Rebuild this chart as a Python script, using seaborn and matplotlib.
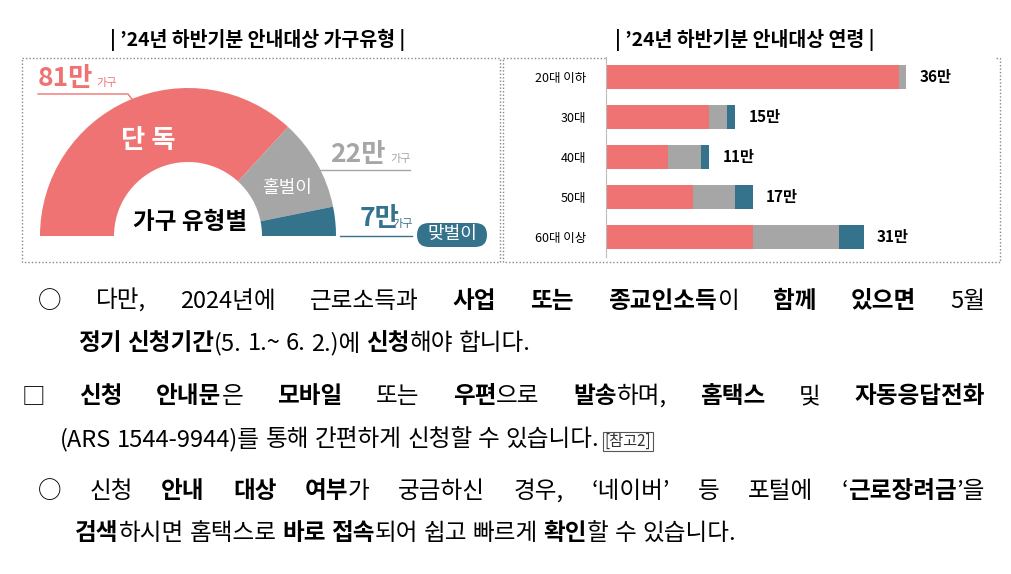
import matplotlib
matplotlib.use("Agg")
import matplotlib.pyplot as plt
import seaborn as sns
import pandas as pd
import numpy as np
from matplotlib.patches import Rectangle, FancyBboxPatch

plt.rcParams["font.family"] = ["Noto Sans CJK KR", "Noto Sans CJK JP", "Noto Sans CJK SC", "DejaVu Sans"]

# ---- data ----
hh_types = ["단 독", "홀벌이", "맞벌이"]
hh_values = [81, 22, 7]
hh_labels = ["81만", "22만", "7만"]

ages = ["20대 이하", "30대", "40대", "50대", "60대 이상"]
single = [35.1, 12.4, 7.4, 10.4, 17.6]
one_earner = [0.9, 2.1, 4.0, 5.1, 10.3]
dual = [0.0, 1.0, 1.0, 2.1, 3.0]
age_totals = ["36만", "15만", "11만", "17만", "31만"]

RED, GREY, TEAL = "#F07373", "#A6A6A6", "#35738C"

W, H = 1011, 574
fig = plt.figure(figsize=(W/100, H/100), dpi=100)
ov = fig.add_axes([0, 0, 1, 1])
ov.set_xlim(0, W); ov.set_ylim(H, 0); ov.axis("off")
ov.set_aspect("equal")

for x0, x1 in [(22, 500), (503, 1000)]:
    ov.add_patch(Rectangle((x0, 58), x1-x0, 204, fill=False, ec="#888888", lw=1, ls=(0, (1, 1.5))))

ov.text(258, 40, "| ’24년 하반기분 안내대상 가구유형 |", ha="center", va="center", fontsize=14, fontweight="bold")
ov.text(745, 40, "| ’24년 하반기분 안내대상 연령 |", ha="center", va="center", fontsize=14, fontweight="bold")

# donut (half)
vals = hh_values + [sum(hh_values)]
ov.pie(vals, colors=[RED, GREY, TEAL, "none"], startangle=180, counterclock=True,
       radius=148, center=(188, 236), wedgeprops=dict(width=74, lw=0), frame=True)
ov.set_xlim(0, W); ov.set_ylim(H, 0); ov.axis("off")

ov.text(148, 140, hh_types[0], color="white", fontsize=19, fontweight="bold", ha="center", va="center")
ov.text(287, 188, hh_types[1], color="white", fontsize=13, ha="center", va="center")
ov.text(190, 222, "가구 유형별", color="black", fontsize=17, fontweight="bold", ha="center", va="center")

ov.text(38, 78, hh_labels[0], color=RED, fontsize=19, fontweight="bold", ha="left", va="center")
ov.text(96, 83, "가구", color=RED, fontsize=8, ha="left", va="center")
ov.plot([38, 128, 135], [94, 94, 103], color=RED, lw=1)
ov.text(330, 154, hh_labels[1], color=GREY, fontsize=19, fontweight="bold", ha="left", va="center")
ov.text(390, 159, "가구", color=GREY, fontsize=8, ha="left", va="center")
ov.plot([303, 410], [170, 170], color=GREY, lw=1)
ov.text(360, 219, hh_labels[2], color=TEAL, fontsize=19, fontweight="bold", ha="left", va="center")
ov.text(392, 224, "가구", color=TEAL, fontsize=8, ha="left", va="center")
ov.plot([340, 412], [236, 236], color=TEAL, lw=1)
ov.add_patch(FancyBboxPatch((417, 223), 70, 24, boxstyle="round,pad=0,rounding_size=12", fc=TEAL, ec="none"))
ov.text(452, 234, hh_types[2], color="white", fontsize=13, ha="center", va="center")

# stacked bars
ax2 = fig.add_axes([606/W, 1-257/H, 390/W, 200/H])
df = pd.DataFrame({"age": ages, "s": single, "o": one_earner, "d": dual})
df["c1"] = df["s"]
df["c2"] = df["s"] + df["o"]
df["c3"] = df["c2"] + df["d"]
for col, c in [("c3", TEAL), ("c2", GREY), ("c1", RED)]:
    sns.barplot(data=df, y="age", x=col, color=c, width=0.58, ax=ax2, orient="h", saturation=1)
ax2.set_xlim(0, 46.8); ax2.set_ylim(4.5, -0.5)
ax2.set_xlabel(""); ax2.set_ylabel("")
ax2.set_xticks([])
for s in ["top", "right", "bottom"]:
    ax2.spines[s].set_visible(False)
ax2.spines["left"].set_color("#BBBBBB")
ax2.tick_params(axis="y", length=0, labelsize=9, pad=14)
for i, (t, lab) in enumerate(zip(df["c3"], age_totals)):
    ax2.text(t + 1.6, i, lab, va="center", ha="left", fontsize=11, fontweight="bold")

# ---- paragraph text ----
FS = 17
renderer = fig.canvas.get_renderer()

def line(x, y, runs, right=None):
    toks = []
    for txt, bold in runs:
        parts = txt.split(" ")
        for j, p in enumerate(parts):
            if j > 0:
                toks.append(None)
            if p:
                toks.append((p, bold))
    arts = []
    for tk in toks:
        if tk is None:
            arts.append(None); continue
        p, bold = tk
        if isinstance(bold, tuple):
            t = ov.text(0, y, p, fontsize=bold[0], va="baseline", color=bold[1], bbox=dict(fc="white", ec="#555555", lw=0.8, pad=1))
        else:
            t = ov.text(0, y, p, fontsize=FS, va="baseline", fontweight="bold" if bold else "normal")
        arts.append(t)
    widths = [a.get_window_extent(renderer).width if a is not None else 0 for a in arts]
    sp = FS * 0.33
    nsp = sum(1 for a in arts if a is None)
    total = sum(widths) + nsp * sp
    if right is not None and nsp and right - x - total > 0:
        sp += (right - x - total) / nsp
    cx = x
    for a, w in zip(arts, widths):
        if a is None:
            cx += sp
        else:
            a.set_x(cx); cx += w

R = 985
line(38, 308, [("○ 다만, 2024년에 근로소득과 ", 0), ("사업 또는 종교인소득", 1), ("이 ", 0), ("함께 있으면", 1), (" 5월", 0)], R)
line(78, 350, [("정기 신청기간", 1), ("(5. 1.~ 6. 2.)에 ", 0), ("신청", 1), ("해야 합니다.", 0)])
line(22, 403, [("□ ", 0), ("신청 안내문", 1), ("은 ", 0), ("모바일", 1), (" 또는 ", 0), ("우편", 1), ("으로 ", 0), ("발송", 1), ("하며, ", 0), ("홈택스", 1), (" 및 ", 0), ("자동응답전화", 1)], R)
line(60, 446, [("(ARS 1544-9944)를 통해 간편하게 신청할 수 있습니다. ", 0), ("[참고2]", (11, "#333333"))])
line(38, 498, [("○ 신청 ", 0), ("안내 대상 여부", 1), ("가 궁금하신 경우, ‘네이버’ 등 포털에 ‘", 0), ("근로장려금", 1), ("’을", 0)], R)
line(75, 540, [("검색", 1), ("하시면 홈택스로 ", 0), ("바로 접속", 1), ("되어 쉽고 빠르게 ", 0), ("확인", 1), ("할 수 있습니다.", 0)])

fig.savefig("out.png", dpi=100)
